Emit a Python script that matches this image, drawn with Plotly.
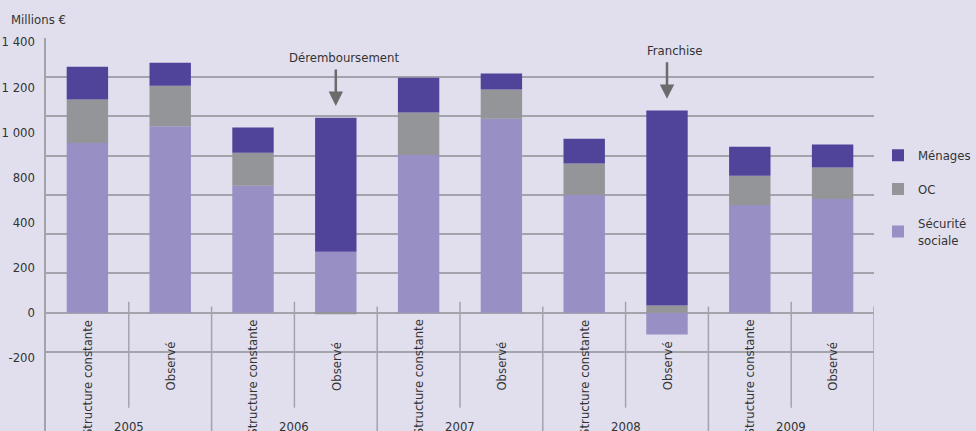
import plotly.graph_objects as go

# ---- data ----
years = ["2005", "2006", "2007", "2008", "2009"]
bar_types = ["Structure constante", "Observé"] * 5
securite_sociale = [865, 950, 647, 311, 804, 989, 600, -111, 549, 580]
oc = [221, 207, 168, -8, 216, 148, 160, 36, 149, 160]
menages = [168, 117, 129, 683, 178, 82, 127, 994, 148, 117]

grid_vals = [-200, 0, 200, 400, 600, 800, 1000, 1200, 1400]
# tick labels as printed in the source (evenly spread, "600" missing)
label_vals = [-230, 0, 230, 460, 690, 920, 1150, 1380]
label_text = ["-200", "0", "200", "400", "800", "1 000", "1 200", "1 400"]

annot_notes = [("Déremboursement", 3), ("Franchise", 7)]

FONT = "Liberation Sans Narrow, DejaVu Sans Condensed, sans-serif"
FS = 13
BG = "#E1DFEE"
GRID = "#A3A3AB"
TXT = "#333333"
C_MEN = "#50439A"
C_OC = "#949598"
C_SS = "#988FC4"

x = list(range(len(bar_types)))

fig = go.Figure()
fig.add_trace(go.Bar(x=x, y=securite_sociale, name="Sécurité<br>sociale",
                     marker=dict(color=C_SS, line=dict(width=0)), width=0.5,
                     legendgroup="ss", legendrank=3))
fig.add_trace(go.Bar(x=x, y=oc, name="OC",
                     marker=dict(color=C_OC, line=dict(width=0)), width=0.5,
                     legendgroup="oc", legendrank=2))
fig.add_trace(go.Bar(x=x, y=menages, name="Ménages",
                     marker=dict(color=C_MEN, line=dict(width=0)), width=0.5,
                     legendgroup="men", legendrank=1))
# invisible trace carrying the label axis
fig.add_trace(go.Scatter(x=[0], y=[0], yaxis="y2", mode="markers",
                         marker=dict(opacity=0), showlegend=False, hoverinfo="skip"))

YMIN, YMAX = -603, 1400

shapes = []
n = len(bar_types)
for g in range(len(years)):
    shapes.append(dict(type="line", xref="x", yref="y", x0=2 * g + 0.5, x1=2 * g + 0.5,
                       y0=56, y1=-484, line=dict(color=GRID, width=1.5), layer="below"))
    shapes.append(dict(type="line", xref="x", yref="y", x0=2 * g + 1.5, x1=2 * g + 1.5,
                       y0=31, y1=YMIN, line=dict(color=GRID, width=1.5), layer="below"))

annotations = []
for i, t in enumerate(bar_types):
    annotations.append(dict(x=i, y=0, xref="x", yref="y", text=t, textangle=-90,
                            showarrow=False, yanchor="top", xanchor="center",
                            yshift=-5 if t.startswith("Structure") else -27,
                            font=dict(family=FONT, size=FS, color=TXT)))
for g, yr in enumerate(years):
    annotations.append(dict(x=2 * g + 0.5, y=-581, xref="x", yref="y", text=yr,
                            showarrow=False, xanchor="center", yanchor="middle",
                            font=dict(family=FONT, size=FS, color=TXT)))
for txt, idx in annot_notes:
    top = (max(securite_sociale[idx], 0) + max(oc[idx], 0) + menages[idx])
    annotations.append(dict(x=idx, y=top + 60, xref="x", yref="y", text="",
                            showarrow=True, ax=0, ay=-38, arrowhead=2,
                            arrowwidth=2.5, arrowsize=1.15, arrowcolor="#6B6B6B"))
    annotations.append(dict(x=idx, y=top + 60, xref="x", yref="y", text=txt,
                            showarrow=False, xanchor="center", yanchor="middle",
                            xshift=8, yshift=48,
                            font=dict(family=FONT, size=FS, color=TXT)))
annotations.append(dict(x=0, y=1, xref="paper", yref="paper", text="Millions €",
                        showarrow=False, xanchor="left", yanchor="middle",
                        xshift=-37, yshift=18.5,
                        font=dict(family=FONT, size=FS, color=TXT)))

fig.update_layout(
    width=976, height=431,
    margin=dict(l=46, r=92, t=38, b=0),
    paper_bgcolor=BG, plot_bgcolor=BG,
    barmode="relative", bargap=0.5,
    font=dict(family=FONT, size=FS, color=TXT),
    showlegend=True,
    legend=dict(x=1.005, xanchor="left", y=0.74, yanchor="top",
                traceorder="grouped", tracegroupgap=14,
                font=dict(family=FONT, size=FS, color=TXT),
                bgcolor="rgba(0,0,0,0)"),
    xaxis=dict(range=[-0.5, n - 0.5], showticklabels=False, showgrid=False,
               zeroline=False, showline=False, ticks=""),
    yaxis=dict(range=[YMIN, YMAX], tickvals=grid_vals, showticklabels=False,
               showgrid=True, gridcolor=GRID, gridwidth=1.5,
               zeroline=True, zerolinecolor=GRID, zerolinewidth=1.5,
               showline=True, linecolor=GRID, linewidth=1.5, ticks=""),
    yaxis2=dict(range=[YMIN, YMAX], overlaying="y", side="left", anchor="x",
                tickvals=label_vals, ticktext=label_text, showgrid=False,
                zeroline=False, showline=False, ticks="", ticklabelstandoff=10,
                tickfont=dict(family=FONT, size=FS, color=TXT)),
    shapes=shapes, annotations=annotations,
)

fig.write_html("out.html", config={"displayModeBar": False},
               post_script="document.body.style.margin='0';")
